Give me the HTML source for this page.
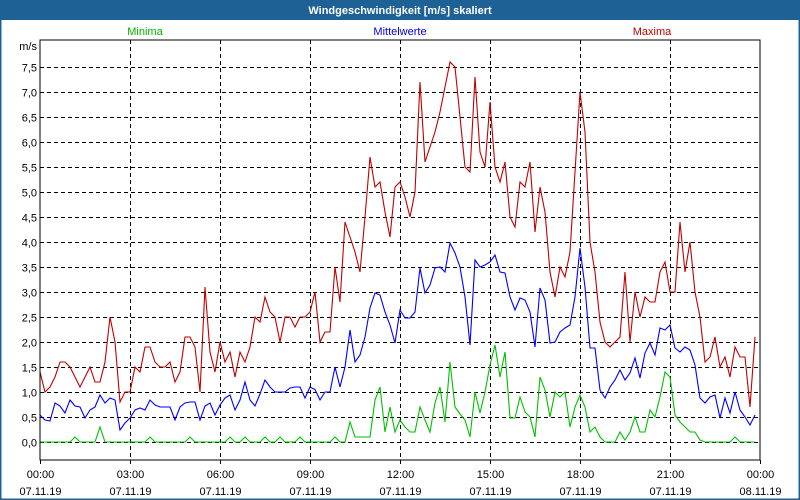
<!DOCTYPE html>
<html><head><meta charset="utf-8">
<style>
html,body{margin:0;padding:0;background:#fff;}
#wrap{position:relative;width:800px;height:500px;overflow:hidden;font-family:"Liberation Sans",sans-serif;}
</style></head>
<body>
<div id="wrap">
<svg id="chart" width="800" height="500" xmlns="http://www.w3.org/2000/svg" font-family="Liberation Sans, sans-serif">
  <rect x="0" y="0" width="800" height="500" fill="#ffffff"/>
  <rect x="0" y="0" width="800" height="20" fill="#1e6194"/>
  <rect x="0.5" y="0.5" width="799" height="499" fill="none" stroke="#1e6194" stroke-width="2"/>
  <text x="400" y="14" text-anchor="middle" fill="#ffffff" font-size="11" font-weight="bold">Windgeschwindigkeit [m/s] skaliert</text>
  <text x="145" y="35" text-anchor="middle" fill="#00b000" font-size="11">Minima</text>
  <text x="400" y="35" text-anchor="middle" fill="#0000e0" font-size="11">Mittelwerte</text>
  <text x="652" y="35" text-anchor="middle" fill="#c00000" font-size="11">Maxima</text>
  <text x="37" y="50" text-anchor="end" fill="#000" font-size="11">m/s</text>
  <g id="grid"></g>
  <g id="series"></g>
  <rect x="40" y="40" width="720" height="420" fill="none" stroke="#000" stroke-width="1"/>
  <g id="axes"></g>
</svg>
</div>
<script>
const yTicks = ["0,0","0,5","1,0","1,5","2,0","2,5","3,0","3,5","4,0","4,5","5,0","5,5","6,0","6,5","7,0","7,5"];
const yTickValues = [0,0.5,1,1.5,2,2.5,3,3.5,4,4.5,5,5.5,6,6.5,7,7.5];
const xTickTimes = ["00:00","03:00","06:00","09:00","12:00","15:00","18:00","21:00","00:00"];
const xTickDates = ["07.11.19","07.11.19","07.11.19","07.11.19","07.11.19","07.11.19","07.11.19","07.11.19","08.11.19"];
const xTickHours = [0,3,6,9,12,15,18,21,24];
const maxima = [1.4,1.0,1.1,1.3,1.6,1.6,1.5,1.3,1.1,1.3,1.5,1.2,1.2,1.6,2.5,2.0,0.8,1.0,1.0,1.5,1.4,1.9,1.9,1.6,1.5,1.5,1.6,1.2,1.4,2.1,2.1,1.9,1.0,3.1,1.8,1.4,2.0,1.6,1.8,1.3,1.8,1.6,1.9,2.5,2.4,2.9,2.6,2.5,2.0,2.5,2.5,2.3,2.5,2.5,2.6,3.0,2.0,2.2,2.2,3.5,2.8,4.4,4.1,3.8,3.4,4.5,5.7,5.1,5.2,4.6,4.1,5.1,5.2,4.9,4.5,5.0,7.2,5.6,5.9,6.2,6.6,7.1,7.6,7.5,6.5,5.5,5.4,7.3,5.8,5.5,6.8,5.5,5.2,5.6,4.5,4.3,5.2,5.1,5.6,4.2,5.1,4.6,3.4,2.9,3.5,3.3,3.8,5.4,7.0,6.2,4.0,3.4,2.4,2.0,1.9,2.0,2.1,3.4,2.0,3.0,2.5,2.9,2.8,2.8,3.4,3.6,3.0,3.0,4.4,3.4,4.0,3.0,2.5,1.6,1.7,2.1,1.5,1.7,1.3,1.9,1.7,1.7,0.7,2.1];
const mittelwerte = [0.54,0.44,0.42,0.78,0.72,0.58,0.84,0.72,0.7,0.48,0.64,0.7,0.94,0.78,0.88,0.84,0.24,0.38,0.48,0.64,0.68,0.64,0.84,0.74,0.7,0.7,0.7,0.44,0.7,0.78,0.8,0.8,0.44,0.72,0.78,0.54,0.74,0.88,0.94,0.64,0.84,1.2,0.84,0.72,0.96,1.24,1.1,1.0,1.0,1.0,1.08,1.1,1.1,0.88,1.1,1.05,0.84,1.0,1.0,1.5,1.1,1.5,2.24,1.6,1.74,2.1,2.68,2.98,2.94,2.6,2.34,1.98,2.64,2.48,2.48,2.6,3.48,2.98,3.14,3.48,3.5,3.4,3.98,3.78,3.5,2.9,1.94,3.64,3.5,3.54,3.6,3.74,3.4,3.38,2.9,2.64,2.88,2.84,2.6,1.9,3.08,2.84,1.98,2.0,2.2,2.28,2.34,2.9,3.88,3.1,1.88,1.88,1.04,0.88,1.1,1.24,1.44,1.24,1.38,1.68,1.28,1.78,1.98,1.74,2.28,2.24,2.34,1.88,1.8,1.9,1.84,1.54,0.88,0.78,0.9,0.94,0.48,0.88,0.58,1.0,0.64,0.5,0.34,0.54];
const minima = [0,0,0,0,0,0,0,0.1,0,0,0,0,0.3,0,0,0,0,0,0,0,0,0,0.1,0,0,0,0,0,0,0,0.1,0,0,0,0,0,0,0,0.1,0,0,0.1,0,0,0,0.1,0,0,0.1,0,0,0,0.1,0,0,0,0,0,0,0.1,0,0,0.4,0.1,0.1,0.1,0.1,0.84,1.1,0.2,0.7,0.2,0.44,0.3,0.2,0.2,0.7,0.44,0.2,0.78,1.1,0.4,1.6,0.7,0.56,0.44,0.1,1.0,0.58,1.0,1.54,1.94,1.3,1.8,0.48,0.48,0.9,0.6,0.5,0.1,1.3,1.04,0.5,1.0,0.9,1.0,0.3,0.7,0.94,0.7,0.2,0.3,0.1,0,0,0,0.2,0.04,0.2,0.5,0.2,0.2,0.64,0.5,0.9,1.4,1.3,0.54,0.4,0.3,0.2,0.2,0.04,0,0,0,0,0,0,0.1,0,0,0,0];

const NS = "http://www.w3.org/2000/svg";
const X0 = 40, X1 = 760, Y0 = 442, YPER = 50;
function xOfIndex(i){ return X0 + i * (X1 - X0) / 144; }
function xOfHour(h){ return X0 + h * (X1 - X0) / 24; }
function yOf(v){ return Y0 - v * YPER; }

const grid = document.getElementById('grid');
const axes = document.getElementById('axes');
const series = document.getElementById('series');

yTickValues.forEach((v, k) => {
  const y = Math.round(yOf(v)) + 0.5;
  const ln = document.createElementNS(NS, 'line');
  ln.setAttribute('x1', X0); ln.setAttribute('x2', X1);
  ln.setAttribute('y1', y); ln.setAttribute('y2', y);
  ln.setAttribute('stroke', '#000'); ln.setAttribute('stroke-dasharray', '4,3');
  
  
  grid.appendChild(ln);
  const t = document.createElementNS(NS, 'text');
  t.setAttribute('x', 37); t.setAttribute('y', y + 4);
  t.setAttribute('text-anchor', 'end'); t.setAttribute('font-size', '11');
  t.textContent = yTicks[k];
  
  
  axes.appendChild(t);
});

xTickHours.forEach((h, k) => {
  const x = Math.round(xOfHour(h)) + 0.5;
  if (h > 0 && h < 24) {
    const ln = document.createElementNS(NS, 'line');
    ln.setAttribute('x1', x); ln.setAttribute('x2', x);
    ln.setAttribute('y1', 40); ln.setAttribute('y2', 460);
    ln.setAttribute('stroke', '#000'); ln.setAttribute('stroke-dasharray', '4,3');
    
    
    grid.appendChild(ln);
  }
  const tk = document.createElementNS(NS, 'line');
  tk.setAttribute('x1', x); tk.setAttribute('x2', x);
  tk.setAttribute('y1', 460); tk.setAttribute('y2', 464);
  tk.setAttribute('stroke', '#000');
  
  
  axes.appendChild(tk);
  const t1 = document.createElementNS(NS, 'text');
  t1.setAttribute('x', x); t1.setAttribute('y', 478);
  t1.setAttribute('text-anchor', 'middle'); t1.setAttribute('font-size', '11');
  t1.textContent = xTickTimes[k];
  
  
  axes.appendChild(t1);
  const t2 = document.createElementNS(NS, 'text');
  t2.setAttribute('x', x); t2.setAttribute('y', 495);
  t2.setAttribute('text-anchor', 'middle'); t2.setAttribute('font-size', '11');
  t2.textContent = xTickDates[k];
  
  
  axes.appendChild(t2);
});

function drawLine(vals, color, name){
  const pts = vals.map((v, i) => xOfIndex(i).toFixed(1) + ',' + yOf(v).toFixed(1)).join(' ');
  const pl = document.createElementNS(NS, 'polyline');
  pl.setAttribute('points', pts);
  pl.setAttribute('fill', 'none');
  pl.setAttribute('stroke', color);
  pl.setAttribute('stroke-width', '1.1');
  
  
  series.appendChild(pl);
}
drawLine(minima, '#00c000', 'minima-line');
drawLine(maxima, '#c00000', 'maxima-line');
drawLine(mittelwerte, '#0000ff', 'mittelwerte-line');
</script>
</body></html>
